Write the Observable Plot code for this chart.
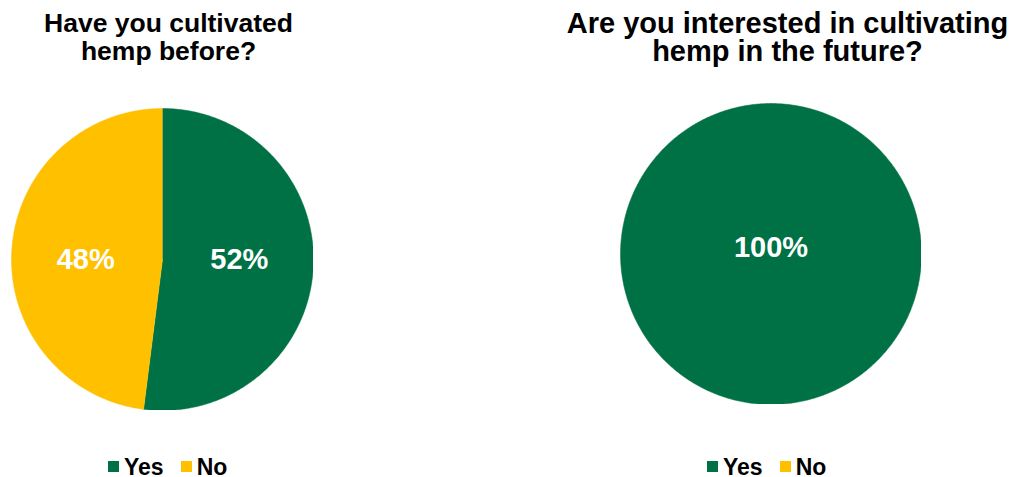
<!DOCTYPE html>
<html><head><meta charset="utf-8">
<script src="https://cdn.jsdelivr.net/npm/d3@7"></script>
<script src="https://cdn.jsdelivr.net/npm/@observablehq/plot@0.6"></script>
<style>
body{margin:0;background:#fff;}
#root{position:relative;width:1018px;height:477px;overflow:hidden;font-family:"Liberation Sans",Arial,sans-serif;}
.title{position:absolute;font-weight:bold;line-height:28px;text-align:center;color:#000;white-space:nowrap;width:500px;}
.pie{position:absolute;}
.leg{position:absolute;}
.lg-swatches{margin:0 !important;min-height:0 !important;line-height:20px !important;height:20px;}
.lg-swatch{margin-right:17px !important;line-height:20px !important;}
.lg-swatch > svg{margin-right:5px !important;}
</style></head><body><div id="root"></div>
<script>
const categories = ["Yes", "No"];
const colors = ["#007145", "#FFC000"];
const titleLeft = ["Have you cultivated", "hemp before?"];
const titleRight = ["Are you interested in cultivating", "hemp in the future?"];
const cultivatedBefore = [52, 48];
const interestedFuture = [100, 0];

function slices(values) {
  const total = d3.sum(values);
  const arcs = d3.pie().sort(null).value(d => d)(values);
  const poly = [], labels = [];
  arcs.forEach((a, i) => {
    if (a.value <= 0) return;
    const span = a.endAngle - a.startAngle;
    const full = span >= 2 * Math.PI - 1e-9;
    const n = Math.max(2, Math.ceil(span / (Math.PI / 360)));
    if (!full) poly.push({key: categories[i], x: 0, y: 0});
    for (let k = 0; k <= n; k++) {
      const t = a.startAngle + span * k / n;
      poly.push({key: categories[i], x: Math.sin(t), y: Math.cos(t)});
    }
    const mid = (a.startAngle + a.endAngle) / 2;
    // best-fit style placement: horizontal offset along mid-angle, centred vertically
    const lx = full ? 0 : 0.51 * Math.sin(mid);
    const ly = full ? 0.04 : 0;
    labels.push({key: categories[i], x: lx, y: ly, text: Math.round(a.value / total * 100) + "%"});
  });
  return {poly, labels};
}

function pie(values, size) {
  const {poly, labels} = slices(values);
  return Plot.plot({
    width: size, height: size, margin: 0,
    style: {fontFamily: "Liberation Sans, Arial, sans-serif", background: "transparent"},
    x: {domain: [-1, 1], axis: null},
    y: {domain: [-1, 1], axis: null},
    color: {domain: categories, range: colors},
    marks: [
      Plot.line(poly, {x: "x", y: "y", z: "key", fill: "key", stroke: "key", strokeWidth: 0.5}),
      Plot.text(labels, {x: "x", y: "y", text: "text", fill: "white", fontSize: 29, fontWeight: "bold"})
    ]
  });
}

function legend() {
  return Plot.legend({
    legend: "swatches",
    color: {domain: categories, range: colors},
    swatchSize: 11,
    className: "lg",
    style: {fontFamily: "Liberation Sans, Arial, sans-serif", fontSize: "23px", fontWeight: "bold", color: "#000"}
  });
}

const root = document.getElementById("root");
function place(el, cls, left, top) {
  el.classList.add(cls);
  el.style.position = "absolute";
  el.style.left = left + "px";
  el.style.top = top + "px";
  root.appendChild(el);
  return el;
}
function title(lines, center, size, top) {
  const d = document.createElement("div");
  d.innerHTML = lines.join("<br>");
  d.style.fontSize = size + "px";
  place(d, "title", center - 250, top);
}

title(titleLeft, 168.5, 26.5, 9);
title(titleRight, 787.5, 29, 8.5);
place(pie(cultivatedBefore, 302), "pie", 11, 108);
place(pie(interestedFuture, 301), "pie", 620, 103);
place(legend(), "leg", 108, 456.5);
place(legend(), "leg", 707, 456.5);
</script></body></html>
